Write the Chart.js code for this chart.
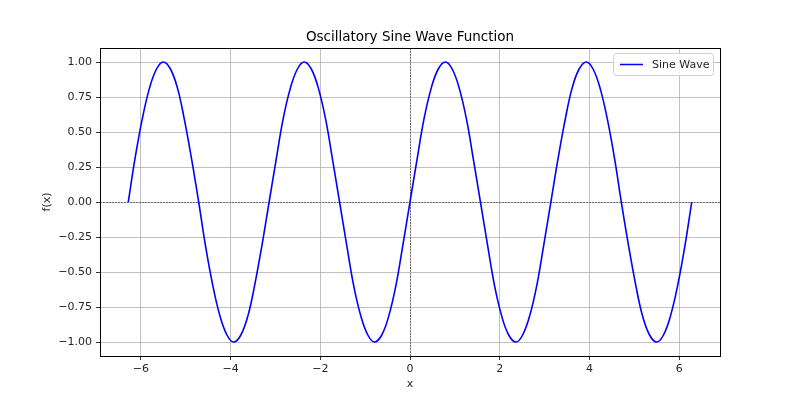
<!DOCTYPE html>
<html>
<head>
<meta charset="utf-8">
<script src="https://cdn.jsdelivr.net/npm/chart.js@4/dist/chart.umd.min.js"></script>
<style>
  html, body { margin: 0; padding: 0; background: #fff; }
  #wrap { width: 800px; height: 400px; }
</style>
</head>
<body>
<div id="wrap"><canvas id="myChart" width="800" height="400"></canvas></div>
<script>
// x samples
const xValues = [
  -6.28, -6.13, -5.97, -5.81, -5.65, -5.50, -5.34, -5.18, -5.03, -4.87,
  -4.71, -4.56, -4.40, -4.24, -4.08, -3.93, -3.77, -3.61, -3.46, -3.30,
  -3.14, -2.98, -2.83, -2.67, -2.51, -2.36, -2.20, -2.04, -1.88, -1.73,
  -1.57, -1.41, -1.26, -1.10, -0.94, -0.79, -0.63, -0.47, -0.31, -0.16,
  0.00, 0.16, 0.31, 0.47, 0.63, 0.79, 0.94, 1.10, 1.26, 1.41,
  1.57, 1.73, 1.88, 2.04, 2.20, 2.36, 2.51, 2.67, 2.83, 2.98,
  3.14, 3.30, 3.46, 3.61, 3.77, 3.93, 4.08, 4.24, 4.40, 4.56,
  4.71, 4.87, 5.03, 5.18, 5.34, 5.50, 5.65, 5.81, 5.97, 6.13,
  6.28
];
// f(x) values
const sineValues = [
  0.00, 0.31, 0.59, 0.81, 0.95, 1.00, 0.95, 0.81, 0.59, 0.31,
  0.00, -0.31, -0.59, -0.81, -0.95, -1.00, -0.95, -0.81, -0.59, -0.31,
  0.00, 0.31, 0.59, 0.81, 0.95, 1.00, 0.95, 0.81, 0.59, 0.31,
  0.00, -0.31, -0.59, -0.81, -0.95, -1.00, -0.95, -0.81, -0.59, -0.31,
  0.00, 0.31, 0.59, 0.81, 0.95, 1.00, 0.95, 0.81, 0.59, 0.31,
  0.00, -0.31, -0.59, -0.81, -0.95, -1.00, -0.95, -0.81, -0.59, -0.31,
  0.00, 0.31, 0.59, 0.81, 0.95, 1.00, 0.95, 0.81, 0.59, 0.31,
  0.00, -0.31, -0.59, -0.81, -0.95, -1.00, -0.95, -0.81, -0.59, -0.31,
  0.00
];
const xTicks = [-6, -4, -2, 0, 2, 4, 6];
const yTicks = [-1.0, -0.75, -0.5, -0.25, 0.0, 0.25, 0.5, 0.75, 1.0];

const chartTitle = 'Oscillatory Sine Wave Function';
const xLabel = 'x';
const yLabel = 'f(x)';
const seriesLabel = 'Sine Wave';

const FONT = '"DejaVu Sans", sans-serif';
const textColor = '#262626';

function fmtMinus(s) {
  return s.replace('-', '\u2212');
}

// draws frame, zero lines, title, axis labels and legend
const extrasPlugin = {
  id: 'extras',
  beforeDatasetsDraw(chart) {
    const ctx = chart.ctx;
    const a = chart.chartArea;
    const xs = chart.scales.x, ys = chart.scales.y;
    ctx.save();
    ctx.strokeStyle = '#555';
    ctx.lineWidth = 0.7;
    ctx.setLineDash([2, 1]);
    const y0 = Math.round(ys.getPixelForValue(0)) + 0.5;
    const x0 = Math.round(xs.getPixelForValue(0)) + 0.5;
    ctx.beginPath();
    ctx.moveTo(a.left, y0); ctx.lineTo(a.right, y0);
    ctx.moveTo(x0, a.top); ctx.lineTo(x0, a.bottom);
    ctx.stroke();
    ctx.restore();
  },
  afterDraw(chart) {
    const ctx = chart.ctx;
    const a = chart.chartArea;
    ctx.save();
    ctx.strokeStyle = '#000';
    ctx.lineWidth = 1;
    ctx.strokeRect(Math.round(a.left) + 0.5, Math.round(a.top) + 0.5,
      Math.round(a.right - a.left), Math.round(a.bottom - a.top));

    const cx = (a.left + a.right) / 2;
    ctx.fillStyle = '#000';
    ctx.textAlign = 'center';
    ctx.textBaseline = 'middle';
    ctx.font = '13.5px ' + FONT;
    ctx.fillText(chartTitle, cx, 37);
    ctx.fillStyle = textColor;
    ctx.font = '11px ' + FONT;
    ctx.fillText(xLabel, cx, 384);
    ctx.save();
    ctx.translate(47, (a.top + a.bottom) / 2);
    ctx.rotate(-Math.PI / 2);
    ctx.fillText(yLabel, 0, 0);
    ctx.restore();

    // legend box
    const lx = 613, ly = 53, lw = 100, lh = 22;
    ctx.fillStyle = 'rgba(255,255,255,0.8)';
    ctx.strokeStyle = '#d0d0d0';
    ctx.lineWidth = 1;
    ctx.beginPath();
    ctx.roundRect(lx + 0.5, ly + 0.5, lw, lh, 3);
    ctx.fill();
    ctx.stroke();
    ctx.strokeStyle = '#0000ff';
    ctx.lineWidth = 1.5;
    ctx.beginPath();
    ctx.moveTo(620, ly + lh / 2 + 0.5);
    ctx.lineTo(643, ly + lh / 2 + 0.5);
    ctx.stroke();
    ctx.fillStyle = textColor;
    ctx.textAlign = 'left';
    ctx.font = '11px ' + FONT;
    ctx.fillText(seriesLabel, 652, ly + lh / 2 + 1);
    ctx.restore();
  }
};

const points = xValues.map((x, i) => ({ x: x, y: sineValues[i] }));

const ctx = document.getElementById('myChart').getContext('2d');
const chart = new Chart(ctx, {
  type: 'line',
  data: {
    datasets: [{
      label: seriesLabel,
      data: points,
      borderColor: '#0000ff',
      borderWidth: 1.6,
      pointRadius: 0,
      fill: false,
      tension: 0.4,
    }],
  },
  options: {
    responsive: false,
    animation: false,
    layout: { padding: { left: 0, right: 80, top: 48, bottom: 0 } },
    plugins: {
      legend: { display: false },
      title: { display: false },
      tooltip: { enabled: false },
    },
    scales: {
      x: {
        type: 'linear',
        min: -6.91,
        max: 6.91,
        afterBuildTicks: (scale) => { scale.ticks = xTicks.map(v => ({ value: v })); },
        afterFit: (scale) => { scale.height = 44; },
        grid: { color: '#b0b0b0', lineWidth: 0.8, tickLength: 4, tickColor: '#000' },
        border: { display: false },
        ticks: {
          color: textColor,
          font: { family: FONT, size: 11 },
          padding: 3,
          maxRotation: 0,
          callback: (v) => fmtMinus(String(v)),
        },
      },
      y: {
        min: -1.1,
        max: 1.1,
        afterBuildTicks: (scale) => { scale.ticks = yTicks.map(v => ({ value: v })); },
        afterFit: (scale) => { scale.width = 100; },
        grid: { color: '#b0b0b0', lineWidth: 0.8, tickLength: 4, tickColor: '#000' },
        border: { display: false },
        ticks: {
          color: textColor,
          font: { family: FONT, size: 11 },
          padding: 4,
          callback: (v) => fmtMinus(v.toFixed(2)),
        },
      },
    },
  },
  plugins: [extrasPlugin],
});
</script>
</body>
</html>
